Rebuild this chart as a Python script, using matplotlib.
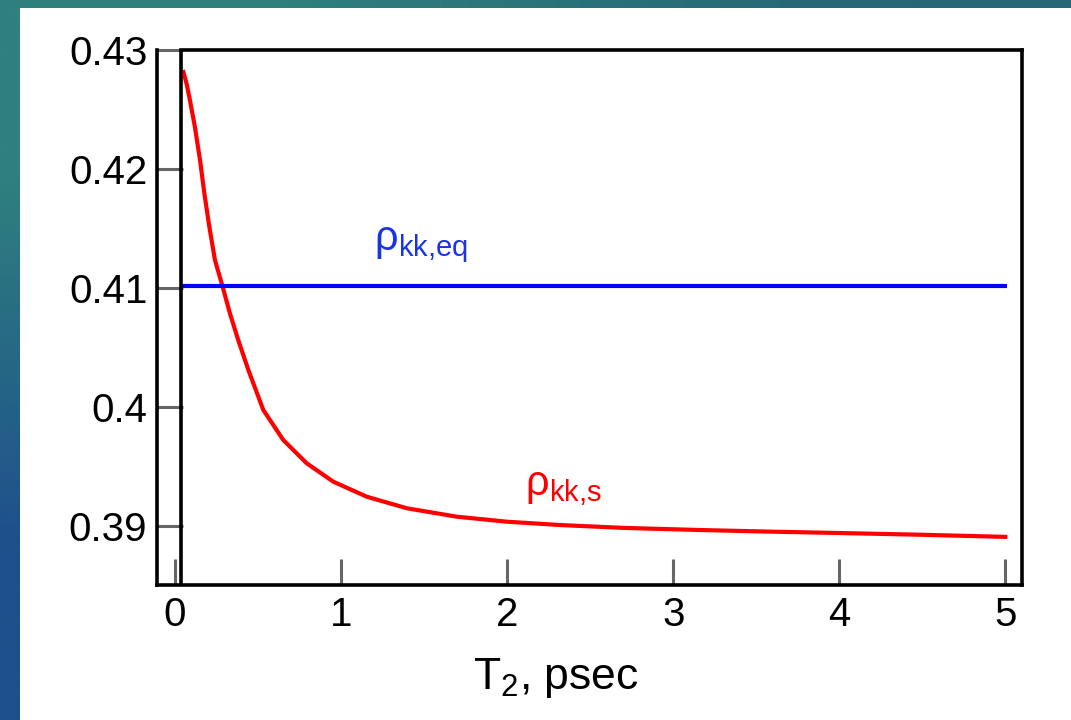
import numpy as np
import matplotlib
matplotlib.use("Agg")
import matplotlib.pyplot as plt
from matplotlib.patches import Rectangle

plt.rcParams['font.family'] = ['Liberation Sans', 'DejaVu Sans']
plt.rcParams['mathtext.fontset'] = 'custom'
plt.rcParams['mathtext.rm'] = 'Liberation Sans'
plt.rcParams['mathtext.it'] = 'Liberation Sans:italic'

# red curve: rho_kk,s versus T2
t_s = [0.048, 0.072, 0.090, 0.120, 0.151, 0.177, 0.207, 0.241, 0.287, 0.331,
       0.381, 0.442, 0.532, 0.652, 0.793, 0.954, 1.155, 1.396, 1.697, 1.998,
       2.319, 2.70, 3.163, 3.6, 4.0, 4.5, 5.012]
rho_s = [0.42832, 0.42706, 0.42580, 0.42355, 0.42076, 0.41796, 0.41515, 0.41235,
         0.41011, 0.40787, 0.40563, 0.40311, 0.39975, 0.39723, 0.39527, 0.39372,
         0.39246, 0.39149, 0.39078, 0.39036, 0.39008, 0.38984, 0.38966, 0.38952,
         0.38941, 0.38926, 0.38908]

# blue line: equilibrium value
t_eq = [0.036, 5.01]
rho_eq = [0.4102, 0.4102]

t0_line = 0.036
xticks = [0, 1, 2, 3, 4, 5]
yticks = [0.39, 0.40, 0.41, 0.42, 0.43]
ytick_labels = ['0.39', '0.4', '0.41', '0.42', '0.43']

fig = plt.figure(figsize=(10.71, 7.2), dpi=100)

# slide background
bg = fig.add_axes([0, 0, 1, 1], zorder=-10)
grad = np.array([[[47, 128, 126], [38, 104, 120]],
                 [[30, 80, 140], [30, 84, 136]]], dtype=float) / 255
bg.imshow(grad, aspect='auto', interpolation='bilinear', extent=[0, 1, 0, 1])
bg.add_patch(Rectangle((20 / 1071, 0), 1, 1 - 8 / 720, transform=bg.transAxes,
                       facecolor='white', edgecolor='none'))
bg.set_xlim(0, 1)
bg.set_ylim(0, 1)
bg.axis('off')

ax = fig.add_axes([157 / 1071, 1 - 585 / 720, (1022 - 157) / 1071, (585 - 50) / 720])
ax.set_facecolor('none')

ax.plot(t_s, rho_s, color='#ff0000', lw=3, solid_capstyle='butt',
        solid_joinstyle='round', zorder=3)
ax.plot(t_eq, rho_eq, color='#0000ff', lw=3, solid_capstyle='butt', zorder=3)
ax.axvline(t0_line, color='black', lw=2.6, zorder=4)

ax.set_xlim(-0.108, 5.1)
ax.set_ylim(0.38504, 0.43)

ax.set_xticks(xticks)
ax.set_xticklabels([str(v) for v in xticks])
ax.set_yticks(yticks)
ax.set_yticklabels(ytick_labels)
ax.tick_params(direction='in', length=18.5, width=2.2, color='#666666',
               labelsize=29, pad=8)
ax.tick_params(axis='y', pad=7)

for s in ax.spines.values():
    s.set_linewidth(2.6)
    s.set_color('black')
ax.spines['top'].set_bounds(t0_line, 5.1)

ax.set_xlabel(r'T$_2$, psec', fontsize=32, x=0.461, labelpad=16)

ax.text(1.2, 0.41319, r'$\mathrm{\rho}_{\mathrm{kk{,}eq}}$', color='#1a33e6',
        fontsize=30, va='baseline', ha='left')
ax.text(2.108, 0.39261, r'$\mathrm{\rho}_{\mathrm{kk{,}s}}$', color='#ff0000',
        fontsize=30, va='baseline', ha='left')

fig.savefig('out.png', dpi=100)
